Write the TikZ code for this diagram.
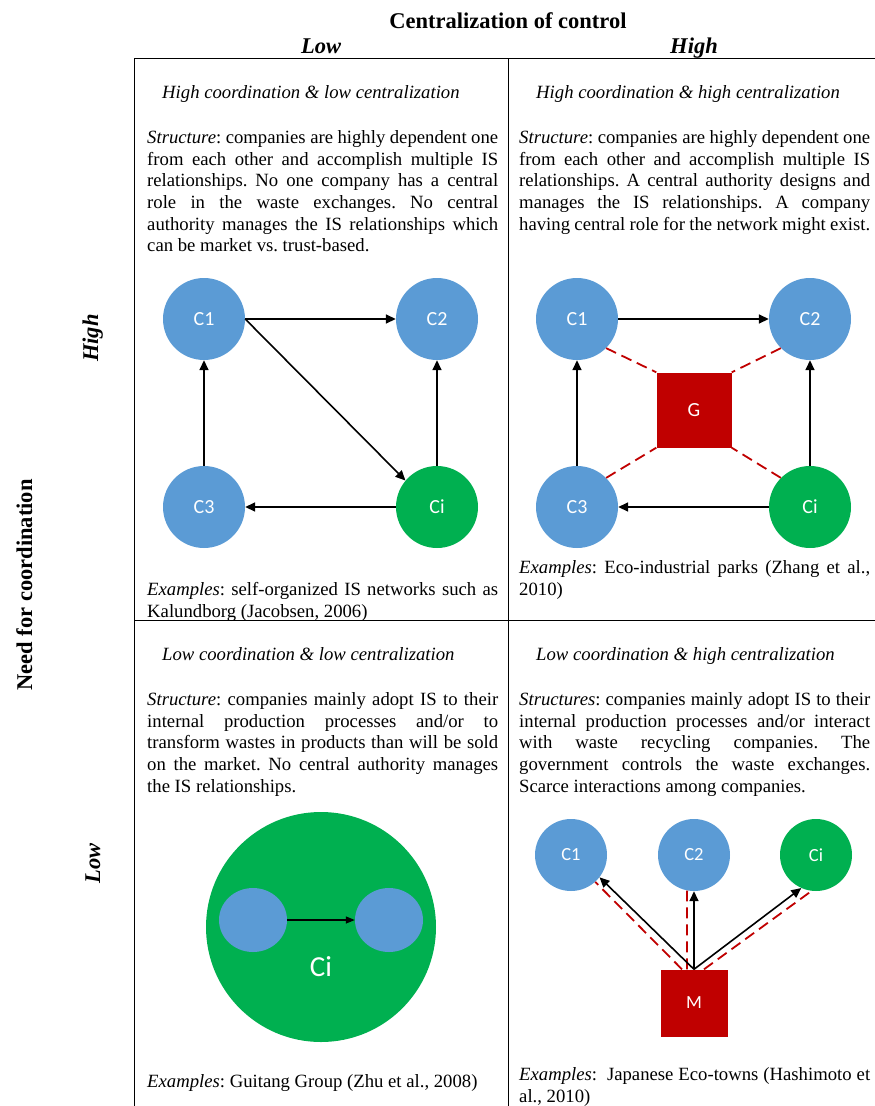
\documentclass[tikz,border=0pt]{standalone}
\usepackage{fontspec}
\setmainfont{Liberation Serif}
\newfontfamily\calibri{Carlito}
\usepackage{tikz}
\usetikzlibrary{positioning,arrows.meta,shapes.geometric}

\definecolor{coblue}{RGB}{91,155,213}
\definecolor{cogreen}{RGB}{0,176,80}
\definecolor{govred}{RGB}{192,0,0}
\newcommand{\bodyfont}{\fontsize{18.7}{21.7}\selectfont\frenchspacing}
\newcommand{\headfont}{\fontsize{22.5}{27}\selectfont\bfseries}

\begin{document}
\begin{tikzpicture}
	[x=1pt,y=-1pt,
	co/.style={circle,fill=coblue,draw=none,minimum size=82pt,inner sep=0pt,text=white,font=\calibri\fontsize{20}{24}\selectfont},
	cosmall/.style={co,minimum size=72pt,font=\calibri\fontsize{18.5}{22}\selectfont},
	gov/.style={rectangle,fill=govred,draw=none,minimum size=75pt,inner sep=0pt,text=white,font=\calibri\fontsize{20}{24}\selectfont},
	lnk/.style={-{Triangle[length=10pt,width=9pt]},line width=1.6pt},
	ctl/.style={govred,line width=1.8pt,dash pattern=on 11pt off 6pt},
	txt/.style={text width=351pt,align=justify,inner sep=0pt,anchor=north west,font=\bodyfont},
	ttl/.style={inner sep=0pt,anchor=base west,font=\bodyfont\itshape},
	hdr/.style={inner sep=0pt,anchor=base,font=\headfont}]
	\useasboundingbox (0,0) rectangle (875,1106);
	%%%%% GRID
	\coordinate (gridNW) at (134,58);
	\coordinate (gridNE) at (875,58);
	\coordinate (gridW) at (134,620);
	\coordinate (gridE) at (875,620);
	\coordinate (gridSW) at (134,1106);
	\coordinate (gridN) at (508,58);
	\coordinate (gridS) at (508,1106);
	\draw[line width=0.8pt] (gridNE) -- (gridNW) -- (gridSW) (gridW) -- (gridE) (gridN) -- (gridS);
	%%%%% HEADERS
	\node[hdr] (centr) at (508,28) {Centralization of control};
	\node[hdr,font=\headfont\itshape] (centrLow) at (321,53) {Low};
	\node[hdr,font=\headfont\itshape] (centrHigh) at (694,53) {High};
	\node[hdr,rotate=90] (coord) at (32,585) {Need for coordination};
	\node[hdr,rotate=90,font=\headfont\itshape] (coordHigh) at (98,338) {High};
	\node[hdr,rotate=90,font=\headfont\itshape] (coordLow) at (100,863) {Low};
	%%%%% HIGH COORDINATION & LOW CENTRALIZATION
	\node[ttl] (hlTitle) at (162,98) {High coordination \& low centralization};
	\node[txt] (hlText) at (147,128) {\noindent\strut\textit{Structure}: companies are highly dependent one\linebreak
	from each other and accomplish multiple IS\linebreak
	relationships. No one company has a central\linebreak
	role in the waste exchanges. No central\linebreak
	authority manages the IS relationships which\linebreak
	can be market vs. trust-based.};
	\foreach \n/\x/\y in {C1/204/319,C2/437/319,C3/204/507}
		\node[co] (hl\n) at (\x,\y) {\n};
	\node[co,fill=cogreen] (hlCi) at (437,507) {Ci};
	\draw[lnk] (hlC1.east) -- (hlC2.west);
	\draw[lnk] (hlC1.east) -- (hlCi.140);
	\draw[lnk] (hlC3) -- (hlC1);
	\draw[lnk] (hlCi) -- (hlC2);
	\draw[lnk] (hlCi) -- (hlC3);
	\node[txt] (hlEx) at (147,580) {\noindent\strut\textit{Examples}: self-organized IS networks such as\linebreak
	Kalundborg (Jacobsen, 2006)};
	%%%%% HIGH COORDINATION & HIGH CENTRALIZATION
	\node[ttl] (hhTitle) at (536,98) {High coordination \& high centralization};
	\node[txt] (hhText) at (519,128) {\noindent\strut\textit{Structure}: companies are highly dependent one\linebreak
	from each other and accomplish multiple IS\linebreak
	relationships. A central authority designs and\linebreak
	manages the IS relationships. A company\linebreak
	having central role for the network might exist.};
	\foreach \n/\x/\y in {C1/577/319,C2/810/319,C3/577/507}
		\node[co] (hh\n) at (\x,\y) {\n};
	\node[co,fill=cogreen] (hhCi) at (810,507) {Ci};
	\node[gov] (hhG) at (694,410) {G};
	\foreach \n/\a/\b in {C1/south east/north west,C2/south west/north east,C3/north east/south west,Ci/north west/south east}
		\draw[ctl] (hh\n.\a) -- (hhG.\b);
	\draw[lnk] (hhC1) -- (hhC2);
	\draw[lnk] (hhC3) -- (hhC1);
	\draw[lnk] (hhCi) -- (hhC2);
	\draw[lnk] (hhCi) -- (hhC3);
	\node[txt] (hhEx) at (519,558) {\noindent\strut\textit{Examples}: Eco-industrial parks (Zhang et al.,\linebreak
	2010)};
	%%%%% LOW COORDINATION & LOW CENTRALIZATION
	\node[ttl] (llTitle) at (162,660) {Low coordination \& low centralization};
	\node[txt] (llText) at (147,690) {\noindent\strut\textit{Structure}: companies mainly adopt IS to their\linebreak
	internal production processes and/or to\linebreak
	transform wastes in products than will be sold\linebreak
	on the market. No central authority manages\linebreak
	the IS relationships.};
	\node[co,fill=cogreen,minimum size=230pt] (llCi) at (321,927) {};
	\node[co,ellipse,minimum width=68pt,minimum height=64pt] (llIn) at (253,920) {};
	\node[co,ellipse,minimum width=68pt,minimum height=64pt] (llOut) at (389,920) {};
	\node[inner sep=0pt,text=white,font=\calibri\fontsize{29}{34}\selectfont] (llCiName) at (321,967) {Ci};
	\draw[-{Triangle[length=9pt,width=7pt]},line width=1.2pt] (llIn) -- (llOut);
	\node[txt] (llEx) at (147,1072) {\noindent\strut\textit{Examples}: Guitang Group (Zhu et al., 2008)};
	%%%%% LOW COORDINATION & HIGH CENTRALIZATION
	\node[ttl] (lhTitle) at (536,660) {Low coordination \& high centralization};
	\node[txt] (lhText) at (519,690) {\noindent\strut\textit{Structures}: companies mainly adopt IS to their\linebreak
	internal production processes and/or interact\linebreak
	with waste recycling companies. The\linebreak
	government controls the waste exchanges.\linebreak
	Scarce interactions among companies.};
	\foreach \n/\x in {C1/571,C2/694}
		\node[cosmall] (lh\n) at (\x,855) {\n};
	\node[cosmall,fill=cogreen] (lhCi) at (816,855) {Ci};
	\node[gov,minimum size=67pt,font=\calibri\fontsize{18.5}{22}\selectfont] (lhM) at (694,1003) {M};
	\coordinate (lhM1) at ([xshift=-12pt]lhM.north);
	\coordinate (lhM2) at ([xshift=-7pt]lhM.north);
	\coordinate (lhM3) at ([xshift=10pt]lhM.north);
	\draw[ctl] (lhM1) -- (lhC1.-48);
	\draw[ctl] (lhM2) -- (lhC2.-101);
	\draw[ctl] (lhM3) -- (lhCi.-97);
	\draw[lnk] (lhM.north) -- (lhC1.-38);
	\draw[lnk] (lhM.north) -- (lhC2.south);
	\draw[lnk] (lhM.north) -- (lhCi.-114);
	\node[txt] (lhEx) at (519,1065) {\noindent\strut\textit{Examples}:\ \ Japanese Eco-towns (Hashimoto et\linebreak
	al., 2010)};
\end{tikzpicture}
\end{document}
